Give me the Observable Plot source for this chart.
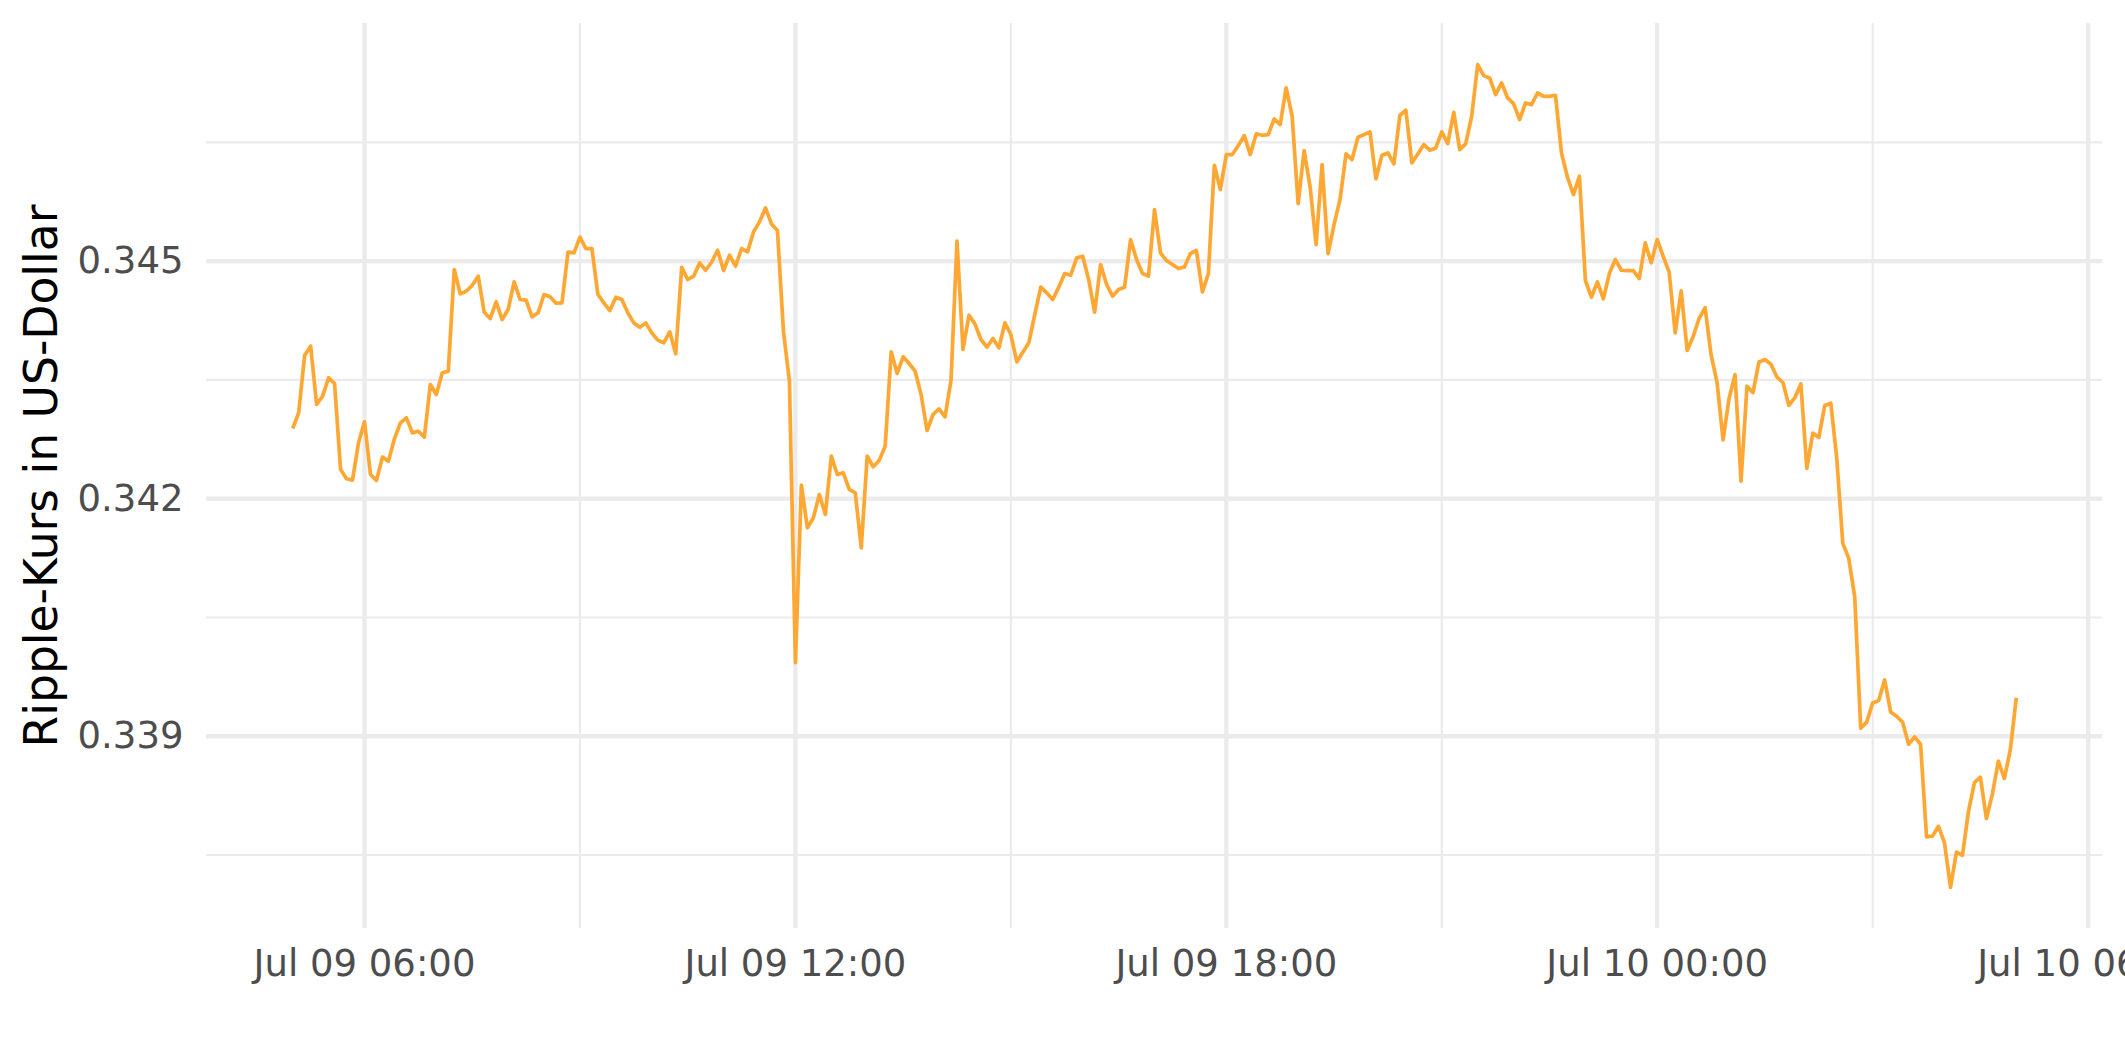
<!DOCTYPE html>
<html>
<head>
<meta charset="utf-8">
<script src="https://cdn.jsdelivr.net/npm/d3@7"></script>
<script src="https://cdn.jsdelivr.net/npm/@observablehq/plot@0.6"></script>
<style>
  html, body { margin: 0; padding: 0; background: #ffffff; overflow: hidden; }
  #chart svg { display: block; }
</style>
</head>
<body>
<div id="chart"></div>
<script>
// Sampling of the series: one price every 5 minutes, starting Jul 09 05:00
const startTime = "2022-07-09T05:00:00Z";
const stepMinutes = 5;

// Ripple price in US dollars
const prices = [
  0.342887, 0.343085, 0.343813, 0.343927, 0.343190, 0.343295, 0.343527, 0.343455, 0.342369, 0.342252,
  0.342235, 0.342706, 0.342971, 0.342306, 0.342231, 0.342525, 0.342475, 0.342757, 0.342959, 0.343022,
  0.342832, 0.342853, 0.342778, 0.343443, 0.343316, 0.343590, 0.343611, 0.344895, 0.344588, 0.344621,
  0.344697, 0.344811, 0.344356, 0.344276, 0.344487, 0.344263, 0.344390, 0.344739, 0.344516, 0.344508,
  0.344297, 0.344348, 0.344579, 0.344550, 0.344470, 0.344474, 0.345114, 0.345105, 0.345303, 0.345160,
  0.345160, 0.344579, 0.344474, 0.344377, 0.344545, 0.344516, 0.344348, 0.344221, 0.344167, 0.344221,
  0.344095, 0.344003, 0.343969, 0.344108, 0.343830, 0.344924, 0.344769, 0.344811, 0.344979, 0.344886,
  0.344987, 0.345139, 0.344882, 0.345076, 0.344937, 0.345160, 0.345118, 0.345370, 0.345497, 0.345673,
  0.345471, 0.345387, 0.344116, 0.343485, 0.339928, 0.342172, 0.341633, 0.341759, 0.342054, 0.341801,
  0.342538, 0.342306, 0.342327, 0.342117, 0.342075, 0.341380, 0.342538, 0.342403, 0.342483, 0.342664,
  0.343855, 0.343582, 0.343792, 0.343708, 0.343611, 0.343316, 0.342862, 0.343064, 0.343135, 0.343034,
  0.343497, 0.345253, 0.343885, 0.344318, 0.344209, 0.344011, 0.343914, 0.344024, 0.343906, 0.344221,
  0.344074, 0.343729, 0.343851, 0.343969, 0.344327, 0.344672, 0.344600, 0.344516, 0.344672, 0.344844,
  0.344823, 0.345042, 0.345063, 0.344769, 0.344356, 0.344958, 0.344705, 0.344558, 0.344642, 0.344672,
  0.345274, 0.345021, 0.344844, 0.344811, 0.345652, 0.345105, 0.345008, 0.344958, 0.344907, 0.344928,
  0.345097, 0.345135, 0.344613, 0.344844, 0.346212, 0.345905, 0.346347, 0.346347, 0.346460, 0.346587,
  0.346347, 0.346608, 0.346591, 0.346599, 0.346797, 0.346726, 0.347189, 0.346831, 0.345728, 0.346397,
  0.345939, 0.345210, 0.346221, 0.345097, 0.345463, 0.345779, 0.346355, 0.346284, 0.346566, 0.346599,
  0.346633, 0.346040, 0.346338, 0.346368, 0.346229, 0.346843, 0.346907, 0.346242, 0.346355, 0.346473,
  0.346402, 0.346431, 0.346633, 0.346486, 0.346881, 0.346410, 0.346482, 0.346831, 0.347483, 0.347344,
  0.347315, 0.347104, 0.347252, 0.347062, 0.346991, 0.346789, 0.346999, 0.346978, 0.347125, 0.347083,
  0.347083, 0.347096, 0.346368, 0.346061, 0.345842, 0.346073, 0.344756, 0.344545, 0.344739, 0.344524,
  0.344844, 0.345021, 0.344886, 0.344882, 0.344882, 0.344781, 0.345231, 0.344979, 0.345274, 0.345062,
  0.344859, 0.344094, 0.344627, 0.343873, 0.344048, 0.344279, 0.344413, 0.343816, 0.343468, 0.342743,
  0.343265, 0.343566, 0.342221, 0.343421, 0.343340, 0.343728, 0.343758, 0.343699, 0.343537, 0.343468,
  0.343178, 0.343276, 0.343450, 0.342384, 0.342830, 0.342772, 0.343178, 0.343207, 0.342511, 0.341439,
  0.341247, 0.340760, 0.339103, 0.339178, 0.339421, 0.339450, 0.339711, 0.339306, 0.339253, 0.339178,
  0.338899, 0.338992, 0.338899, 0.337729, 0.337740, 0.337862, 0.337653, 0.337091, 0.337537, 0.337496,
  0.338047, 0.338413, 0.338482, 0.337961, 0.338268, 0.338686, 0.338465, 0.338830, 0.339485
];

// Axis ticks and grid lines
const xMajorTicks = ["2022-07-09T06:00:00Z", "2022-07-09T12:00:00Z", "2022-07-09T18:00:00Z", "2022-07-10T00:00:00Z", "2022-07-10T06:00:00Z"];
const xMinorTicks = ["2022-07-09T09:00:00Z", "2022-07-09T15:00:00Z", "2022-07-09T21:00:00Z", "2022-07-10T03:00:00Z"];
const yMajorTicks = [0.339, 0.342, 0.345];
const yMinorTicks = [0.3375, 0.3405, 0.3435, 0.3465];
const yTitle = "Ripple-Kurs in US-Dollar";

const t0 = new Date(startTime).getTime();
const data = prices.map((p, i) => ({ time: new Date(t0 + i * stepMinutes * 60000), price: p }));
const xMajor = xMajorTicks.map(s => new Date(s));
const xMinor = xMinorTicks.map(s => new Date(s));

// ggplot-like 5% expansion of the data range
const [tMin, tMax] = d3.extent(data, d => d.time);
const tPad = (tMax - tMin) * 0.05;
const [pMin, pMax] = d3.extent(prices);
const pPad = (pMax - pMin) * 0.05;

const grid = "#EBEBEB";
const chart = Plot.plot({
  width: 2125,
  height: 1062,
  marginLeft: 206,
  marginRight: 23,
  marginTop: 23,
  marginBottom: 134,
  style: { fontFamily: "'DejaVu Sans', sans-serif", background: "#ffffff", overflow: "visible" },
  x: { type: "utc", domain: [new Date(+tMin - tPad), new Date(+tMax + tPad)] },
  y: { domain: [pMin - pPad, pMax + pPad] },
  marks: [
    Plot.ruleY(yMinorTicks, { stroke: grid, strokeWidth: 2.2 }),
    Plot.ruleX(xMinor, { stroke: grid, strokeWidth: 2.2 }),
    Plot.ruleY(yMajorTicks, { stroke: grid, strokeWidth: 4.3 }),
    Plot.ruleX(xMajor, { stroke: grid, strokeWidth: 4.3 }),
    Plot.lineY(data, { x: "time", y: "price", stroke: "#FFA733", strokeWidth: 3.7, strokeLinejoin: "round", strokeLinecap: "butt" }),
    Plot.axisX({ ticks: xMajor, tickSize: 0, tickPadding: 21, tickFormat: d3.utcFormat("%b %d %H:%M"), fontSize: 37, fill: "#4D4D4D", label: null }),
    Plot.axisY({ ticks: yMajorTicks, tickSize: 0, tickPadding: 23, tickFormat: d3.format(".3f"), fontSize: 37, fill: "#4D4D4D", label: null }),
    Plot.text([yTitle], { text: d => d, frameAnchor: "left", textAnchor: "middle", lineAnchor: "middle", dx: -164, rotate: -90, fontSize: 45.6, fill: "#000000" })
  ]
});
document.getElementById("chart").append(chart);
</script>
</body>
</html>
